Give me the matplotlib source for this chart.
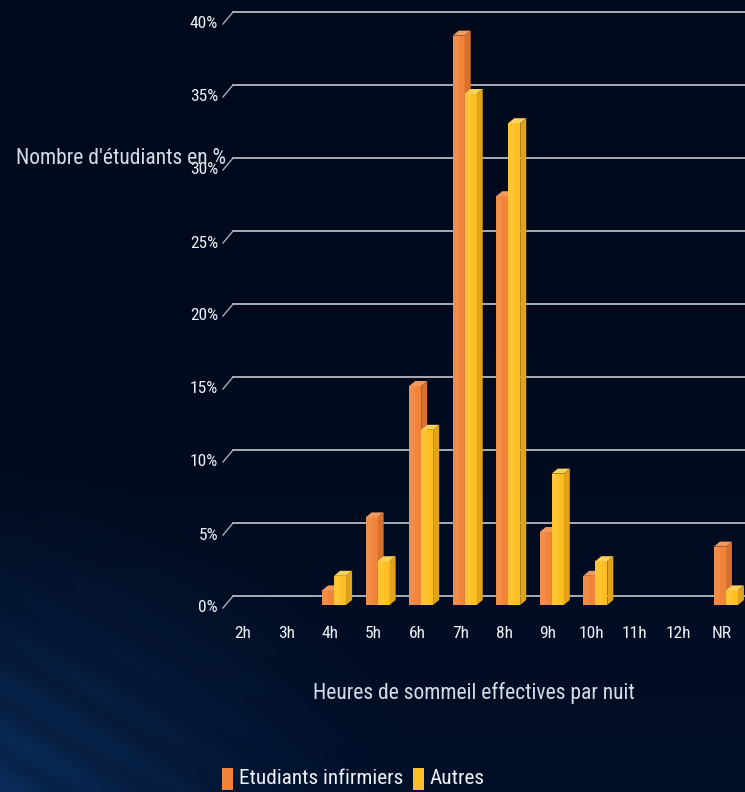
import numpy as np
import matplotlib
matplotlib.use("Agg")
import matplotlib.pyplot as plt
from matplotlib import font_manager
from matplotlib.patches import Polygon, Rectangle
from matplotlib.lines import Line2D

# Sleep-duration survey: share of students per nightly sleep duration
categories = ["2h", "3h", "4h", "5h", "6h", "7h", "8h", "9h", "10h", "11h", "12h", "NR"]
nursing = [0, 0, 1, 6, 15, 39, 28, 5, 2, 0, 0, 4]
others = [0, 0, 2, 3, 12, 35, 33, 9, 3, 0, 0, 1]
yticks = [0, 5, 10, 15, 20, 25, 30, 35, 40]
ytick_labels = ["0%", "5%", "10%", "15%", "20%", "25%", "30%", "35%", "40%"]
series_names = ["Etudiants infirmiers", "Autres"]


def pick_condensed_font():
    """Return the file of a narrow sans-serif face if one is installed."""
    entries = font_manager.fontManager.ttflist
    wanted = [
        lambda f: f.name == "Liberation Sans Narrow",
        lambda f: f.name in ("Roboto Condensed", "Open Sans Condensed", "Noto Sans Condensed"),
        lambda f: f.name == "DejaVu Sans" and "condensed" in str(f.stretch).lower(),
        lambda f: "Condensed" in f.name or "Narrow" in f.name,
        lambda f: "condensed" in str(f.stretch).lower() and "semi" not in str(f.stretch).lower(),
    ]
    for test in wanted:
        hits = [f for f in entries if test(f) and f.style == "normal"
                and f.weight in (400, "normal", "regular")]
        if hits:
            return hits[0].fname
    return None


font_file = pick_condensed_font()
if font_file:
    font_manager.fontManager.addfont(font_file)
    fam = font_manager.FontProperties(fname=font_file).get_name()
    plt.rcParams["font.family"] = [fam, "DejaVu Sans"]
    scale = 1.0
else:
    plt.rcParams["font.family"] = ["Roboto", "DejaVu Sans"]
    scale = 0.9

W, H, DPI = 745, 792, 100
fig = plt.figure(figsize=(W / DPI, H / DPI), dpi=DPI)

# dark navy backdrop with a soft blue glow in the lower-left corner
bg = fig.add_axes([0, 0, 1, 1], zorder=-10)
yy, xx = np.mgrid[0:H, 0:W]
base = np.array([1, 10, 28], float) / 255
glow_col = np.array([12, 42, 82], float) / 255
d = np.hypot((xx + 60) / 1.0, (yy - 800) / 0.7)
glow = np.clip(1 - d / 480, 0, 1) ** 1.4
streak = 0.15 * np.sin((xx * 0.6 - (yy - 792) * 1.0) / 8.0) * glow
img = base[None, None, :] + (glow[..., None] + streak[..., None]) * (glow_col - base)[None, None, :]
img += (yy[..., None] / H) ** 2 * np.array([0.0, 0.02, 0.05])
bg.imshow(np.clip(img, 0, 1), aspect="auto", extent=[0, W, H, 0])
bg.set_axis_off()

# plotting area (back wall): 0% at y=596 px, 40% at y=12 px
left_px, right_px = 233, 745
y0_px, y40_px = 596, 12
ax = fig.add_axes([left_px / W, 1 - y0_px / H, (right_px - left_px) / W, (y0_px - y40_px) / H])
ax.set_facecolor("none")
xmin, xmax = -0.23, 11.53
ax.set_xlim(xmin, xmax)
ax.set_ylim(0, 40)
ax.set_axis_off()

px_x = (xmax - xmin) / (right_px - left_px)   # data units per pixel, x
px_y = 40 / (y0_px - y40_px)                   # data units per pixel, y

tick_fs = 12.5 * scale
title_fs = 15.5 * scale
legend_fs = 15.3 * scale
txt_col = "#eef2f7"

# horizontal gridlines with a short perspective segment at the left
grid_col = "#a9adb3"
for t, lab in zip(yticks, ytick_labels):
    ax.add_line(Line2D([xmin, xmax], [t, t], color=grid_col, lw=1.4, clip_on=False, zorder=1))
    ax.add_line(Line2D([xmin, xmin - 10 * px_x], [t, t - 12 * px_y], color=grid_col,
                       lw=1.0, clip_on=False, zorder=1))
    ax.text(xmin - 15 * px_x, t - 12 * px_y, lab, ha="right", va="center",
            color=txt_col, fontsize=tick_fs, clip_on=False, zorder=4)

# 3D-style bars: front face, top face and right side face
front_drop = 9 * px_y
depth_x, depth_y = 6 * px_x, 5 * px_y
bar_w = 12 * px_x
styles = [
    dict(front="#f0843a", top="#f29a5e", side="#d8702f", off=-8 * px_x),
    dict(front="#fdbf22", top="#fdd15a", side="#e2a31c", off=4 * px_x),
]

x = np.arange(len(categories))
for vals, st in zip([nursing, others], styles):
    for xi, v in zip(x, vals):
        if v <= 0:
            continue
        x0 = xi + st["off"]
        x1 = x0 + bar_w
        yb = -front_drop
        yt = v - front_drop
        ax.add_patch(Rectangle((x0, yb), bar_w, v, facecolor=st["front"],
                               edgecolor="none", clip_on=False, zorder=3))
        # lighter strip on the left of the front face
        ax.add_patch(Rectangle((x0, yb), bar_w * 0.5, v, facecolor="white", alpha=0.08,
                               edgecolor="none", clip_on=False, zorder=3))
        ax.add_patch(Polygon([(x0, yt), (x1, yt), (x1 + depth_x, yt + depth_y),
                              (x0 + depth_x, yt + depth_y)], closed=True,
                             facecolor=st["top"], edgecolor="none", clip_on=False, zorder=3))
        ax.add_patch(Polygon([(x1, yb), (x1, yt), (x1 + depth_x, yt + depth_y),
                              (x1 + depth_x, yb + depth_y)], closed=True,
                             facecolor=st["side"], edgecolor="none", clip_on=False, zorder=3))

# category labels
for xi, lab in zip(x, categories):
    ax.text(xi, -(633 - y0_px) * px_y, lab, ha="center", va="center",
            color=txt_col, fontsize=tick_fs, clip_on=False)

# axis titles
fig.text(16 / W, 1 - 158 / H, "Nombre d'étudiants en %", ha="left", va="center",
         color="#d3dde8", fontsize=title_fs, zorder=5)
fig.text(474 / W, 1 - 693 / H, "Heures de sommeil effectives par nuit", ha="center",
         va="center", color="#d3dde8", fontsize=title_fs)

# legend
leg_y = 1 - 779 / H
fig.patches.append(Rectangle((222 / W, 1 - 790 / H), 11 / W, 22 / H, transform=fig.transFigure,
                             facecolor=styles[0]["front"], edgecolor="none"))
fig.text(239 / W, leg_y, series_names[0], ha="left", va="center", color=txt_col, fontsize=legend_fs)
fig.patches.append(Rectangle((413 / W, 1 - 790 / H), 11 / W, 22 / H, transform=fig.transFigure,
                             facecolor=styles[1]["front"], edgecolor="none"))
fig.text(430 / W, leg_y, series_names[1], ha="left", va="center", color=txt_col, fontsize=legend_fs)

fig.savefig("out.png", dpi=DPI)
